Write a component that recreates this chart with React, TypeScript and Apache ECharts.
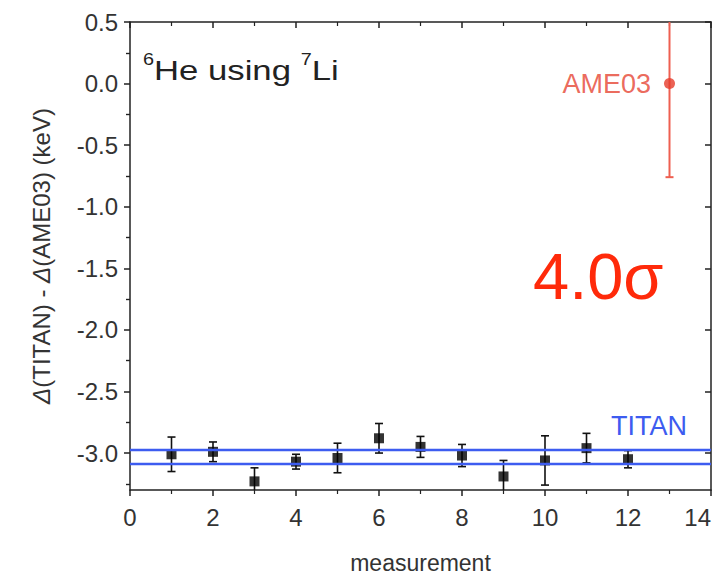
import React, { useEffect, useRef } from "react";
import * as echarts from "echarts";

// Individual mass measurements (keV) with 1-sigma uncertainties
const measurementIndex = [1, 2, 3, 4, 5, 6, 7, 8, 9, 10, 11, 12];
const deltaValues = [-3.01, -2.99, -3.23, -3.07, -3.04, -2.88, -2.95, -3.02, -3.19, -3.06, -2.96, -3.05];
const deltaErrors = [0.14, 0.08, 0.11, 0.06, 0.12, 0.12, 0.085, 0.09, 0.13, 0.2, 0.12, 0.07];

// Reference (AME03) value placed at position 13
const ameIndex = 13;
const ameValue = 0.0;
const ameError = 0.76;

// TITAN weighted-average band (upper / lower edge)
const titanBand = [-2.97, -3.09];

const yMajorTicks = [-3.0, -2.5, -2.0, -1.5, -1.0, -0.5, 0.0, 0.5];
const yMinorTicks = [-3.25, -2.75, -2.25, -1.75, -1.25, -0.75, -0.25, 0.25];

const FONT = "'Liberation Sans', Arial, sans-serif";
const AXIS_COLOR = "#222";
const LABEL_COLOR = "#333";

function errorBarRenderer(color: string, width: number, cap: number) {
  return (params: any, api: any) => {
    const x = api.value(0);
    const lo = api.coord([x, api.value(1)]);
    const hi = api.coord([x, api.value(2)]);
    const half = cap / 2;
    return {
      type: "group",
      children: [
        { type: "line", shape: { x1: lo[0], y1: lo[1], x2: hi[0], y2: hi[1] }, style: { stroke: color, lineWidth: width } },
        { type: "line", shape: { x1: lo[0] - half, y1: lo[1], x2: lo[0] + half, y2: lo[1] }, style: { stroke: color, lineWidth: width } },
        { type: "line", shape: { x1: hi[0] - half, y1: hi[1], x2: hi[0] + half, y2: hi[1] }, style: { stroke: color, lineWidth: width } },
      ],
    };
  };
}

export default function App() {
  const ref = useRef<HTMLDivElement>(null);

  useEffect(() => {
    if (!ref.current) return;
    const chart = echarts.init(ref.current, undefined, { renderer: "svg" });

    const points = measurementIndex.map((x, i) => [x, deltaValues[i]]);
    const bars = measurementIndex.map((x, i) => [x, deltaValues[i] - deltaErrors[i], deltaValues[i] + deltaErrors[i]]);

    const yCommon = {
      type: "value" as const,
      min: -3.3,
      max: 0.5,
      splitLine: { show: false },
    };

    chart.setOption({
      animation: false,
      backgroundColor: "#fff",
      grid: { left: 130, right: 11, top: 22, bottom: 86, containLabel: false, outerBoundsMode: "none" },
      xAxis: [
        {
          type: "value",
          min: 0,
          max: 14,
          interval: 2,
          position: "bottom",
          axisLine: { show: true, onZero: false, lineStyle: { color: AXIS_COLOR, width: 1.5 } },
          axisTick: { show: true, inside: false, length: 6, lineStyle: { color: AXIS_COLOR, width: 1.5 } },
          minorTick: { show: true, splitNumber: 2, length: 4, lineStyle: { color: AXIS_COLOR, width: 1.2 } },
          splitLine: { show: false },
          axisLabel: { color: LABEL_COLOR, fontSize: 24, fontFamily: FONT, margin: 15, alignMaxLabel: "right" },
          name: "measurement",
          nameLocation: "middle",
          nameGap: 61,
          nameTextStyle: { color: LABEL_COLOR, fontSize: 23, fontFamily: FONT },
        },
        {
          type: "value",
          min: 0,
          max: 14,
          interval: 2,
          position: "top",
          axisLine: { show: true, onZero: false, lineStyle: { color: AXIS_COLOR, width: 1.5 } },
          axisTick: { show: true, inside: true, length: 6, lineStyle: { color: AXIS_COLOR, width: 1.5 } },
          minorTick: { show: true, splitNumber: 2, length: 4, lineStyle: { color: AXIS_COLOR, width: 1.2 } },
          splitLine: { show: false },
          axisLabel: { show: false },
        },
      ],
      yAxis: [
        {
          ...yCommon,
          position: "left",
          axisLine: { show: true, onZero: false, lineStyle: { color: AXIS_COLOR, width: 1.5 } },
          axisTick: { show: true, inside: false, length: 6, customValues: yMajorTicks, lineStyle: { color: AXIS_COLOR, width: 1.5 } },
          axisLabel: {
            color: LABEL_COLOR,
            fontSize: 24,
            fontFamily: FONT,
            margin: 12,
            customValues: yMajorTicks,
            formatter: (v: number) => v.toFixed(1),
          },
          name: "{i|Δ}(TITAN) - {i|Δ}(AME03) (keV)",
          nameLocation: "middle",
          nameRotate: 90,
          nameGap: 77,
          nameTextStyle: {
            color: LABEL_COLOR,
            fontSize: 24,
            fontFamily: FONT,
            rich: { i: { fontStyle: "italic", fontSize: 24, fontFamily: FONT, color: LABEL_COLOR } },
          },
        },
        {
          ...yCommon,
          position: "left",
          axisLine: { show: false },
          axisTick: { show: true, inside: false, length: 4, customValues: yMinorTicks, lineStyle: { color: AXIS_COLOR, width: 1.2 } },
          axisLabel: { show: false },
        },
        {
          ...yCommon,
          position: "right",
          axisLine: { show: true, onZero: false, lineStyle: { color: AXIS_COLOR, width: 1.5 } },
          axisTick: { show: true, inside: true, length: 6, customValues: yMajorTicks, lineStyle: { color: AXIS_COLOR, width: 1.5 } },
          axisLabel: { show: false },
        },
        {
          ...yCommon,
          position: "right",
          axisLine: { show: false },
          axisTick: { show: true, inside: true, length: 4, customValues: yMinorTicks, lineStyle: { color: AXIS_COLOR, width: 1.2 } },
          axisLabel: { show: false },
        },
      ],
      series: [
        {
          name: "TITAN band",
          type: "line",
          data: [],
          silent: true,
          markLine: {
            silent: true,
            symbol: "none",
            label: { show: false },
            lineStyle: { color: "#3d5cf0", width: 2.4, type: "solid" },
            data: titanBand.map((y) => ({ yAxis: y })),
          },
        },
        {
          name: "errors",
          type: "custom",
          renderItem: errorBarRenderer("#111", 1.6, 8),
          data: bars,
          encode: { x: 0, y: [1, 2] },
          clip: true,
          z: 3,
        },
        {
          name: "measurements",
          type: "scatter",
          symbol: "rect",
          symbolSize: 10,
          itemStyle: { color: "#000" },
          data: points,
          z: 4,
        },
        {
          name: "AME03 error",
          type: "custom",
          renderItem: errorBarRenderer("#ee5f50", 2, 8),
          data: [[ameIndex, ameValue - ameError, ameValue + ameError]],
          encode: { x: 0, y: [1, 2] },
          clip: true,
          z: 3,
        },
        {
          name: "AME03",
          type: "scatter",
          symbol: "circle",
          symbolSize: 11,
          itemStyle: { color: "#e63b2a" },
          data: [[ameIndex, ameValue]],
          label: {
            show: true,
            position: "left",
            distance: 13,
            formatter: "AME03",
            color: "#e64332",
            fontSize: 27,
            fontFamily: FONT,
          },
          z: 4,
        },
      ],
      graphic: [
        {
          type: "text",
          x: 143,
          y: 52,
          scaleX: 1.24,
          style: {
            text: "{s|6}{n|He using }{s|7}{n|Li}",
            fontFamily: FONT,
            rich: {
              s: { fontSize: 16, fontFamily: FONT, fill: "#222", verticalAlign: "top", lineHeight: 32 },
              n: { fontSize: 28, fontFamily: FONT, fill: "#222", verticalAlign: "bottom", lineHeight: 32 },
            },
          },
        },
        {
          type: "text",
          left: 533,
          top: 244,
          style: { text: "4.0σ", fontSize: 65, fontFamily: FONT, fill: "#ff2a0a" },
        },
        {
          type: "text",
          right: 35,
          top: 412,
          style: { text: "TITAN", fontSize: 27, fontFamily: FONT, fill: "#3d5cf0" },
        },
      ],
    });

    return () => chart.dispose();
  }, []);

  return <div ref={ref} style={{ position: "absolute", left: 0, top: 0, width: 722, height: 576 }} />;
}
